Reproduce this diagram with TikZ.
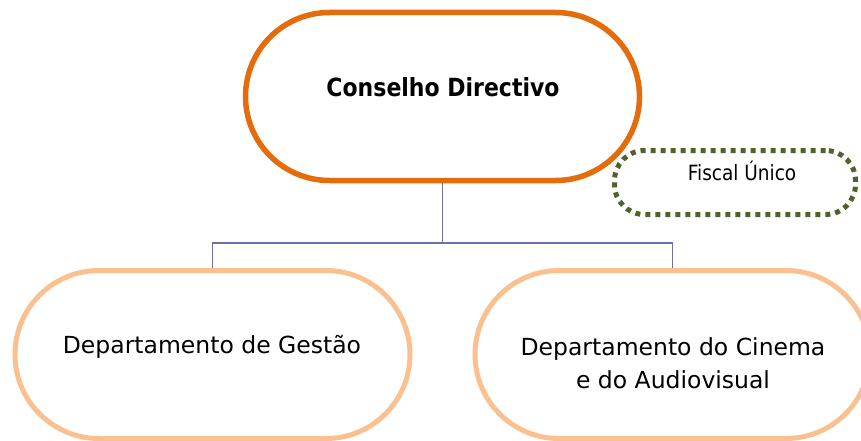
\documentclass[tikz,border=0pt]{standalone}
\usepackage{fontspec}
\setmainfont{DejaVu Sans}
\newfontfamily\narrowfont[FakeStretch=0.88]{DejaVu Sans}
\usetikzlibrary{positioning}
\definecolor{boardorange}{HTML}{E46C0A}
\definecolor{deptorange}{HTML}{FAC090}
\definecolor{fiscalgreen}{HTML}{4F6228}
\definecolor{linkblue}{HTML}{7070A6}

\begin{document}
\begin{tikzpicture}[x=1pt,y=-1pt,
  boardbox/.style={draw=boardorange,line width=5.5pt,rounded corners=84pt,
    minimum width=394pt,minimum height=168pt,inner sep=0pt},
  deptbox/.style={draw=deptorange,line width=5pt,rounded corners=84pt,
    minimum width=395pt,minimum height=168pt,inner sep=0pt},
  fiscalbox/.style={draw=fiscalgreen,line width=5pt,dash pattern=on 5pt off 5pt,
    rounded corners=30pt,minimum width=241pt,minimum height=64pt,inner sep=0pt},
  link/.style={draw=linkblue,line width=1.5pt},
  depttext/.style={font=\fontsize{23.5}{33}\selectfont,align=center}]
\useasboundingbox (0,0) rectangle (861,441);
\clip (0,0) rectangle (861,441);
% boxes
\node[boardbox] (board) at (442.5,96.5) {};
\node[fiscalbox] (fiscal) at (735,182.5) {};
\node[deptbox] (gestao) at (212.5,354.5) {};
\node[deptbox] (cinema) at (672.5,354.5) {};
% labels
\node[anchor=base,font=\narrowfont\bfseries\fontsize{25}{30}\selectfont] (boardtext) at (443,97) {Conselho Directivo};
\node[anchor=base,font=\narrowfont\fontsize{21}{25}\selectfont] (fiscaltext) at (742,180) {Fiscal Único};
\node[depttext,anchor=base] (gestaotext) at (212,353) {Departamento de Gestão};
\node[depttext] (cinematext) at (673,363) {Departamento do Cinema\\e do Audiovisual};
% connectors
\coordinate (split) at (442.5,243);
\draw[link] (board.south) -- (split);
\draw[link] (split) -| (gestao.north);
\draw[link] (split) -| (cinema.north);
\end{tikzpicture}
\end{document}
